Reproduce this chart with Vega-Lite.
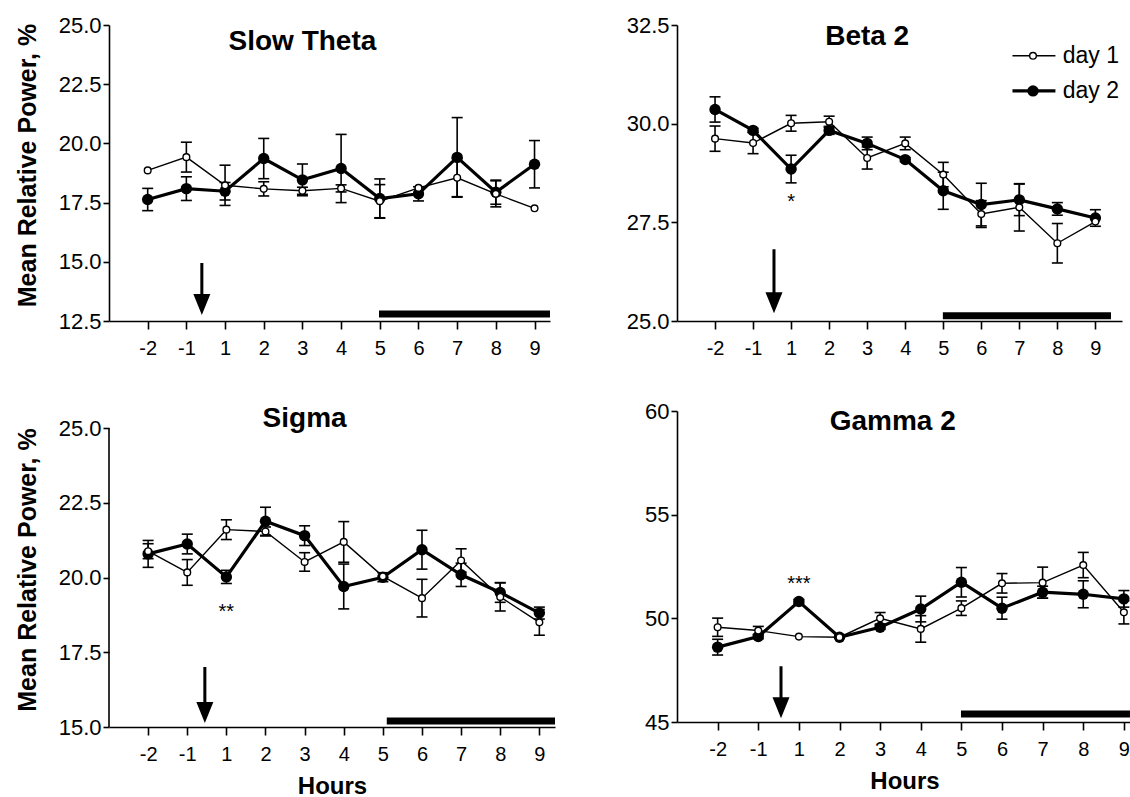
{
"$schema": "https://vega.github.io/schema/vega-lite/v6.json",
"background": "white",
"padding": {"left": 14, "top": 14, "right": 0, "bottom": 0},
"datasets": {"pw": [
{"p":"ST","d":1,"bin":1,"m":18.86,"lo":null,"hi":null},
{"p":"ST","d":1,"bin":2,"m":19.42,"lo":18.79,"hi":20.05},
{"p":"ST","d":1,"bin":3,"m":18.23,"lo":17.38,"hi":19.08},
{"p":"ST","d":1,"bin":4,"m":18.08,"lo":17.78,"hi":18.38},
{"p":"ST","d":1,"bin":5,"m":18.0,"lo":17.85,"hi":18.15},
{"p":"ST","d":1,"bin":6,"m":18.1,"lo":17.95,"hi":18.25},
{"p":"ST","d":1,"bin":7,"m":17.56,"lo":16.86,"hi":18.26},
{"p":"ST","d":1,"bin":8,"m":18.12,"lo":null,"hi":null},
{"p":"ST","d":1,"bin":9,"m":18.55,"lo":17.75,"hi":19.35},
{"p":"ST","d":1,"bin":10,"m":17.87,"lo":17.32,"hi":18.42},
{"p":"ST","d":1,"bin":11,"m":17.26,"lo":null,"hi":null},
{"p":"ST","d":2,"bin":1,"m":17.63,"lo":17.16,"hi":18.10},
{"p":"ST","d":2,"bin":2,"m":18.09,"lo":17.59,"hi":18.59},
{"p":"ST","d":2,"bin":3,"m":17.98,"lo":17.61,"hi":18.35},
{"p":"ST","d":2,"bin":4,"m":19.36,"lo":18.51,"hi":20.21},
{"p":"ST","d":2,"bin":5,"m":18.46,"lo":17.79,"hi":19.13},
{"p":"ST","d":2,"bin":6,"m":18.94,"lo":17.50,"hi":20.38},
{"p":"ST","d":2,"bin":7,"m":17.67,"lo":16.84,"hi":18.50},
{"p":"ST","d":2,"bin":8,"m":17.87,"lo":17.57,"hi":18.17},
{"p":"ST","d":2,"bin":9,"m":19.41,"lo":17.73,"hi":21.09},
{"p":"ST","d":2,"bin":10,"m":17.94,"lo":17.43,"hi":18.45},
{"p":"ST","d":2,"bin":11,"m":19.12,"lo":18.12,"hi":20.12},
{"p":"B2","d":1,"bin":1,"m":29.62,"lo":29.30,"hi":29.94},
{"p":"B2","d":1,"bin":2,"m":29.51,"lo":29.24,"hi":29.78},
{"p":"B2","d":1,"bin":3,"m":30.01,"lo":29.81,"hi":30.21},
{"p":"B2","d":1,"bin":4,"m":30.05,"lo":29.91,"hi":30.19},
{"p":"B2","d":1,"bin":5,"m":29.13,"lo":28.85,"hi":29.41},
{"p":"B2","d":1,"bin":6,"m":29.50,"lo":29.34,"hi":29.66},
{"p":"B2","d":1,"bin":7,"m":28.71,"lo":28.40,"hi":29.02},
{"p":"B2","d":1,"bin":8,"m":27.71,"lo":27.37,"hi":28.05},
{"p":"B2","d":1,"bin":9,"m":27.88,"lo":27.28,"hi":28.48},
{"p":"B2","d":1,"bin":10,"m":26.97,"lo":26.47,"hi":27.47},
{"p":"B2","d":1,"bin":11,"m":27.52,"lo":null,"hi":null},
{"p":"B2","d":2,"bin":1,"m":30.36,"lo":30.04,"hi":30.68},
{"p":"B2","d":2,"bin":2,"m":29.83,"lo":29.78,"hi":29.88},
{"p":"B2","d":2,"bin":3,"m":28.85,"lo":28.50,"hi":29.20},
{"p":"B2","d":2,"bin":4,"m":29.83,"lo":29.73,"hi":29.93},
{"p":"B2","d":2,"bin":5,"m":29.50,"lo":29.34,"hi":29.66},
{"p":"B2","d":2,"bin":6,"m":29.09,"lo":29.04,"hi":29.14},
{"p":"B2","d":2,"bin":7,"m":28.30,"lo":27.83,"hi":28.77},
{"p":"B2","d":2,"bin":8,"m":27.95,"lo":27.41,"hi":28.49},
{"p":"B2","d":2,"bin":9,"m":28.07,"lo":27.67,"hi":28.47},
{"p":"B2","d":2,"bin":10,"m":27.84,"lo":27.68,"hi":28.00},
{"p":"B2","d":2,"bin":11,"m":27.61,"lo":27.40,"hi":27.82},
{"p":"SG","d":1,"bin":1,"m":20.88,"lo":20.63,"hi":21.13},
{"p":"SG","d":1,"bin":2,"m":20.17,"lo":19.74,"hi":20.60},
{"p":"SG","d":1,"bin":3,"m":21.60,"lo":21.27,"hi":21.93},
{"p":"SG","d":1,"bin":4,"m":21.54,"lo":21.39,"hi":21.69},
{"p":"SG","d":1,"bin":5,"m":20.52,"lo":20.21,"hi":20.83},
{"p":"SG","d":1,"bin":6,"m":21.19,"lo":20.51,"hi":21.87},
{"p":"SG","d":1,"bin":7,"m":20.04,"lo":null,"hi":null},
{"p":"SG","d":1,"bin":8,"m":19.31,"lo":18.68,"hi":19.94},
{"p":"SG","d":1,"bin":9,"m":20.57,"lo":20.18,"hi":20.96},
{"p":"SG","d":1,"bin":10,"m":19.35,"lo":18.88,"hi":19.82},
{"p":"SG","d":1,"bin":11,"m":18.50,"lo":18.07,"hi":18.93},
{"p":"SG","d":2,"bin":1,"m":20.79,"lo":20.34,"hi":21.24},
{"p":"SG","d":2,"bin":2,"m":21.12,"lo":20.79,"hi":21.45},
{"p":"SG","d":2,"bin":3,"m":20.02,"lo":19.80,"hi":20.24},
{"p":"SG","d":2,"bin":4,"m":21.88,"lo":21.41,"hi":22.35},
{"p":"SG","d":2,"bin":5,"m":21.40,"lo":21.07,"hi":21.73},
{"p":"SG","d":2,"bin":6,"m":19.70,"lo":18.95,"hi":20.45},
{"p":"SG","d":2,"bin":7,"m":20.01,"lo":19.86,"hi":20.16},
{"p":"SG","d":2,"bin":8,"m":20.93,"lo":20.28,"hi":21.58},
{"p":"SG","d":2,"bin":9,"m":20.09,"lo":19.70,"hi":20.48},
{"p":"SG","d":2,"bin":10,"m":19.50,"lo":19.17,"hi":19.83},
{"p":"SG","d":2,"bin":11,"m":18.81,"lo":18.61,"hi":19.01},
{"p":"G2","d":1,"bin":1,"m":49.57,"lo":49.13,"hi":50.01},
{"p":"G2","d":1,"bin":2,"m":49.41,"lo":49.21,"hi":49.61},
{"p":"G2","d":1,"bin":3,"m":49.12,"lo":null,"hi":null},
{"p":"G2","d":1,"bin":4,"m":49.09,"lo":null,"hi":null},
{"p":"G2","d":1,"bin":5,"m":50.00,"lo":49.72,"hi":50.28},
{"p":"G2","d":1,"bin":6,"m":49.49,"lo":48.85,"hi":50.13},
{"p":"G2","d":1,"bin":7,"m":50.49,"lo":50.14,"hi":50.84},
{"p":"G2","d":1,"bin":8,"m":51.69,"lo":51.22,"hi":52.16},
{"p":"G2","d":1,"bin":9,"m":51.72,"lo":50.97,"hi":52.47},
{"p":"G2","d":1,"bin":10,"m":52.57,"lo":51.96,"hi":53.18},
{"p":"G2","d":1,"bin":11,"m":50.29,"lo":49.73,"hi":50.85},
{"p":"G2","d":2,"bin":1,"m":48.61,"lo":48.23,"hi":48.99},
{"p":"G2","d":2,"bin":2,"m":49.12,"lo":49.02,"hi":49.22},
{"p":"G2","d":2,"bin":3,"m":50.81,"lo":50.71,"hi":50.91},
{"p":"G2","d":2,"bin":4,"m":49.09,"lo":49.04,"hi":49.14},
{"p":"G2","d":2,"bin":5,"m":49.57,"lo":49.47,"hi":49.67},
{"p":"G2","d":2,"bin":6,"m":50.45,"lo":49.83,"hi":51.07},
{"p":"G2","d":2,"bin":7,"m":51.74,"lo":51.03,"hi":52.45},
{"p":"G2","d":2,"bin":8,"m":50.49,"lo":49.96,"hi":51.02},
{"p":"G2","d":2,"bin":9,"m":51.26,"lo":50.97,"hi":51.55},
{"p":"G2","d":2,"bin":10,"m":51.16,"lo":50.51,"hi":51.81},
{"p":"G2","d":2,"bin":11,"m":50.94,"lo":50.54,"hi":51.34}
]},
"data": {"name": "pw"},
"columns": 2,
"bounds": "flush",
"spacing": {"row": 90, "column": 122},
"concat": [
{
"width": 441, "height": 296,
"layer": [
{"transform": [{"filter": "datum.p == 'ST'"}], "mark": {"type": "rule", "color": "black", "strokeWidth": 1.6},
 "encoding": {
  "x": {"field": "bin", "type": "quantitative", "title": null, "scale": {"domain": [0, 11.4], "nice": false, "zero": false}, "axis": {"values": [1,2,3,4,5,6,7,8,9,10,11], "labelExpr": "datum.value <= 2 ? datum.value - 3 : datum.value - 2"}},
  "y": {"field": "lo", "type": "quantitative", "title": "Mean Relative Power, %", "scale": {"domain": [12.5, 25], "nice": false, "zero": false}, "axis": {"values": [12.5, 15, 17.5, 20, 22.5, 25], "format": ".1f", "titleX": -74, "titleY": 140, "titleAngle": 270, "titleBaseline": "alphabetic", "titleAlign": "center"}},
  "y2": {"field": "hi"}}},
{"transform": [{"filter": "datum.p == 'ST'"}], "mark": {"type": "tick", "orient": "horizontal", "color": "black", "size": 11, "thickness": 1.6, "opacity": 1},
 "encoding": {"x": {"field": "bin", "type": "quantitative", "title": null}, "y": {"field": "lo", "type": "quantitative", "title": "Mean Relative Power, %"}}},
{"transform": [{"filter": "datum.p == 'ST'"}], "mark": {"type": "tick", "orient": "horizontal", "color": "black", "size": 11, "thickness": 1.6, "opacity": 1},
 "encoding": {"x": {"field": "bin", "type": "quantitative", "title": null}, "y": {"field": "hi", "type": "quantitative", "title": "Mean Relative Power, %"}}},
{"transform": [{"filter": "datum.p == 'ST' && datum.d == 1"}], "mark": {"type": "line", "color": "black", "strokeWidth": 1.4},
 "encoding": {"x": {"field": "bin", "type": "quantitative", "title": null}, "y": {"field": "m", "type": "quantitative", "title": "Mean Relative Power, %"}}},
{"transform": [{"filter": "datum.p == 'ST' && datum.d == 2"}], "mark": {"type": "line", "color": "black", "strokeWidth": 3.2},
 "encoding": {"x": {"field": "bin", "type": "quantitative", "title": null}, "y": {"field": "m", "type": "quantitative", "title": "Mean Relative Power, %"}}},
{"transform": [{"filter": "datum.p == 'ST' && datum.d == 2"}], "mark": {"type": "point", "shape": "circle", "filled": true, "color": "black", "opacity": 1, "size": 130},
 "encoding": {"x": {"field": "bin", "type": "quantitative", "title": null}, "y": {"field": "m", "type": "quantitative", "title": "Mean Relative Power, %"}}},
{"transform": [{"filter": "datum.p == 'ST' && datum.d == 1"}], "mark": {"type": "point", "shape": "circle", "filled": true, "fill": "white", "stroke": "black", "strokeWidth": 1.4, "opacity": 1, "size": 45},
 "encoding": {"x": {"field": "bin", "type": "quantitative", "title": null}, "y": {"field": "m", "type": "quantitative", "title": "Mean Relative Power, %"}}},
{"data": {"values": [{}]}, "mark": {"type": "rule", "color": "black", "strokeWidth": 7},
 "encoding": {"x": {"datum": 6.98, "type": "quantitative"}, "x2": {"datum": 11.4}, "y": {"datum": 12.8, "type": "quantitative"}}},
{"data": {"values": [{}]}, "mark": {"type": "point", "shape": "M-0.058,-1L0.058,-1L0.058,0.192L0.327,0.192L0,1L-0.327,0.192L-0.058,0.192Z", "filled": true, "color": "black", "opacity": 1, "size": 2704},
 "encoding": {"x": {"datum": 2.4, "type": "quantitative"}, "y": {"datum": 13.85, "type": "quantitative"}}},
{"data": {"values": [{}]}, "mark": {"type": "text", "text": "Slow Theta", "fontSize": 28, "fontWeight": "bold", "align": "center", "baseline": "alphabetic", "color": "black"},
 "encoding": {"x": {"datum": 5, "type": "quantitative"}, "y": {"datum": 23.95, "type": "quantitative"}}}
]
},
{
"width": 445, "height": 296,
"layer": [
{"transform": [{"filter": "datum.p == 'B2'"}], "mark": {"type": "rule", "color": "black", "strokeWidth": 1.6},
 "encoding": {
  "x": {"field": "bin", "type": "quantitative", "title": null, "scale": {"domain": [0, 11.7], "nice": false, "zero": false}, "axis": {"values": [1,2,3,4,5,6,7,8,9,10,11], "labelExpr": "datum.value <= 2 ? datum.value - 3 : datum.value - 2"}},
  "y": {"field": "lo", "type": "quantitative", "title": null, "scale": {"domain": [25, 32.5], "nice": false, "zero": false}, "axis": {"values": [25, 27.5, 30, 32.5], "format": ".1f"}},
  "y2": {"field": "hi"}}},
{"transform": [{"filter": "datum.p == 'B2'"}], "mark": {"type": "tick", "orient": "horizontal", "color": "black", "size": 11, "thickness": 1.6, "opacity": 1},
 "encoding": {"x": {"field": "bin", "type": "quantitative", "title": null}, "y": {"field": "lo", "type": "quantitative", "title": null}}},
{"transform": [{"filter": "datum.p == 'B2'"}], "mark": {"type": "tick", "orient": "horizontal", "color": "black", "size": 11, "thickness": 1.6, "opacity": 1},
 "encoding": {"x": {"field": "bin", "type": "quantitative", "title": null}, "y": {"field": "hi", "type": "quantitative", "title": null}}},
{"transform": [{"filter": "datum.p == 'B2' && datum.d == 1"}], "mark": {"type": "line", "color": "black", "strokeWidth": 1.4},
 "encoding": {"x": {"field": "bin", "type": "quantitative", "title": null}, "y": {"field": "m", "type": "quantitative", "title": null}}},
{"transform": [{"filter": "datum.p == 'B2' && datum.d == 2"}], "mark": {"type": "line", "color": "black", "strokeWidth": 3.2},
 "encoding": {"x": {"field": "bin", "type": "quantitative", "title": null}, "y": {"field": "m", "type": "quantitative", "title": null}}},
{"transform": [{"filter": "datum.p == 'B2' && datum.d == 2"}], "mark": {"type": "point", "shape": "circle", "filled": true, "color": "black", "opacity": 1, "size": 130},
 "encoding": {"x": {"field": "bin", "type": "quantitative", "title": null}, "y": {"field": "m", "type": "quantitative", "title": null}}},
{"transform": [{"filter": "datum.p == 'B2' && datum.d == 1"}], "mark": {"type": "point", "shape": "circle", "filled": true, "fill": "white", "stroke": "black", "strokeWidth": 1.4, "opacity": 1, "size": 45},
 "encoding": {"x": {"field": "bin", "type": "quantitative", "title": null}, "y": {"field": "m", "type": "quantitative", "title": null}}},
{"data": {"values": [{}]}, "mark": {"type": "rule", "color": "black", "strokeWidth": 7},
 "encoding": {"x": {"datum": 6.99, "type": "quantitative"}, "x2": {"datum": 11.41}, "y": {"datum": 25.13, "type": "quantitative"}}},
{"data": {"values": [{}]}, "mark": {"type": "point", "shape": "M-0.047,-1L0.047,-1L0.047,0.344L0.266,0.344L0,1L-0.266,0.344L-0.047,0.344Z", "filled": true, "color": "black", "opacity": 1, "size": 4096},
 "encoding": {"x": {"datum": 2.55, "type": "quantitative"}, "y": {"datum": 26.01, "type": "quantitative"}}},
{"data": {"values": [{}]}, "mark": {"type": "text", "text": "Beta 2", "fontSize": 28, "fontWeight": "bold", "align": "center", "baseline": "alphabetic", "color": "black"},
 "encoding": {"x": {"datum": 5, "type": "quantitative"}, "y": {"datum": 31.99, "type": "quantitative"}}},
{"data": {"values": [{}]}, "mark": {"type": "text", "text": "*", "fontSize": 20, "align": "center", "baseline": "middle", "dy": 6, "color": "black"},
 "encoding": {"x": {"datum": 3, "type": "quantitative"}, "y": {"datum": 28.16, "type": "quantitative"}}},
{"data": {"values": [{}]}, "mark": {"type": "rule", "color": "black", "strokeWidth": 1.4},
 "encoding": {"x": {"datum": 8.82, "type": "quantitative"}, "x2": {"datum": 9.95}, "y": {"datum": 31.72, "type": "quantitative"}}},
{"data": {"values": [{}]}, "mark": {"type": "rule", "color": "black", "strokeWidth": 3.2},
 "encoding": {"x": {"datum": 8.82, "type": "quantitative"}, "x2": {"datum": 9.95}, "y": {"datum": 30.83, "type": "quantitative"}}},
{"data": {"values": [{}]}, "mark": {"type": "point", "shape": "circle", "filled": true, "fill": "white", "stroke": "black", "strokeWidth": 1.4, "opacity": 1, "size": 45},
 "encoding": {"x": {"datum": 9.36, "type": "quantitative"}, "y": {"datum": 31.72, "type": "quantitative"}}},
{"data": {"values": [{}]}, "mark": {"type": "point", "shape": "circle", "filled": true, "color": "black", "opacity": 1, "size": 130},
 "encoding": {"x": {"datum": 9.36, "type": "quantitative"}, "y": {"datum": 30.83, "type": "quantitative"}}},
{"data": {"values": [{}]}, "mark": {"type": "text", "text": "day 1", "fontSize": 23, "align": "left", "baseline": "middle", "color": "black"},
 "encoding": {"x": {"datum": 10.14, "type": "quantitative"}, "y": {"datum": 31.72, "type": "quantitative"}}},
{"data": {"values": [{}]}, "mark": {"type": "text", "text": "day 2", "fontSize": 23, "align": "left", "baseline": "middle", "color": "black"},
 "encoding": {"x": {"datum": 10.14, "type": "quantitative"}, "y": {"datum": 30.83, "type": "quantitative"}}}
]
},
{
"width": 446, "height": 316,
"layer": [
{"transform": [{"filter": "datum.p == 'SG'"}], "mark": {"type": "rule", "color": "black", "strokeWidth": 1.6},
 "encoding": {
  "x": {"field": "bin", "type": "quantitative", "title": "Hours", "scale": {"domain": [0, 11.4], "nice": false, "zero": false}, "axis": {"values": [1,2,3,4,5,6,7,8,9,10,11], "labelExpr": "datum.value <= 2 ? datum.value - 3 : datum.value - 2"}},
  "y": {"field": "lo", "type": "quantitative", "title": "Mean Relative Power, %", "scale": {"domain": [15, 25.569], "nice": false, "zero": false}, "axis": {"domain": false, "values": [15, 17.5, 20, 22.5, 25], "format": ".1f", "titleX": -74, "titleY": 158.5, "titleAngle": 270, "titleBaseline": "alphabetic", "titleAlign": "center"}},
  "y2": {"field": "hi"}}},
{"transform": [{"filter": "datum.p == 'SG'"}], "mark": {"type": "tick", "orient": "horizontal", "color": "black", "size": 11, "thickness": 1.6, "opacity": 1},
 "encoding": {"x": {"field": "bin", "type": "quantitative", "title": "Hours"}, "y": {"field": "lo", "type": "quantitative", "title": "Mean Relative Power, %"}}},
{"transform": [{"filter": "datum.p == 'SG'"}], "mark": {"type": "tick", "orient": "horizontal", "color": "black", "size": 11, "thickness": 1.6, "opacity": 1},
 "encoding": {"x": {"field": "bin", "type": "quantitative", "title": "Hours"}, "y": {"field": "hi", "type": "quantitative", "title": "Mean Relative Power, %"}}},
{"transform": [{"filter": "datum.p == 'SG' && datum.d == 1"}], "mark": {"type": "line", "color": "black", "strokeWidth": 1.4},
 "encoding": {"x": {"field": "bin", "type": "quantitative", "title": "Hours"}, "y": {"field": "m", "type": "quantitative", "title": "Mean Relative Power, %"}}},
{"transform": [{"filter": "datum.p == 'SG' && datum.d == 2"}], "mark": {"type": "line", "color": "black", "strokeWidth": 3.2},
 "encoding": {"x": {"field": "bin", "type": "quantitative", "title": "Hours"}, "y": {"field": "m", "type": "quantitative", "title": "Mean Relative Power, %"}}},
{"transform": [{"filter": "datum.p == 'SG' && datum.d == 2"}], "mark": {"type": "point", "shape": "circle", "filled": true, "color": "black", "opacity": 1, "size": 130},
 "encoding": {"x": {"field": "bin", "type": "quantitative", "title": "Hours"}, "y": {"field": "m", "type": "quantitative", "title": "Mean Relative Power, %"}}},
{"transform": [{"filter": "datum.p == 'SG' && datum.d == 1"}], "mark": {"type": "point", "shape": "circle", "filled": true, "fill": "white", "stroke": "black", "strokeWidth": 1.4, "opacity": 1, "size": 45},
 "encoding": {"x": {"field": "bin", "type": "quantitative", "title": "Hours"}, "y": {"field": "m", "type": "quantitative", "title": "Mean Relative Power, %"}}},
{"data": {"values": [{}]}, "mark": {"type": "rule", "color": "black", "strokeWidth": 1.6},
 "encoding": {"x": {"datum": 0, "type": "quantitative"}, "y": {"datum": 15, "type": "quantitative"}, "y2": {"datum": 25}}},
{"data": {"values": [{}]}, "mark": {"type": "rule", "color": "black", "strokeWidth": 7},
 "encoding": {"x": {"datum": 7.1, "type": "quantitative"}, "x2": {"datum": 11.4}, "y": {"datum": 15.2, "type": "quantitative"}}},
{"data": {"values": [{}]}, "mark": {"type": "point", "shape": "M-0.054,-1L0.054,-1L0.054,0.25L0.304,0.25L0,1L-0.304,0.25L-0.054,0.25Z", "filled": true, "color": "black", "opacity": 1, "size": 3136},
 "encoding": {"x": {"datum": 2.45, "type": "quantitative"}, "y": {"datum": 16.07, "type": "quantitative"}}},
{"data": {"values": [{}]}, "mark": {"type": "text", "text": "Sigma", "fontSize": 28, "fontWeight": "bold", "align": "center", "baseline": "alphabetic", "color": "black"},
 "encoding": {"x": {"datum": 5, "type": "quantitative"}, "y": {"datum": 25.05, "type": "quantitative"}}},
{"data": {"values": [{}]}, "mark": {"type": "text", "text": "**", "fontSize": 20, "align": "center", "baseline": "middle", "dy": 6, "color": "black"},
 "encoding": {"x": {"datum": 3, "type": "quantitative"}, "y": {"datum": 19.06, "type": "quantitative"}}}
]
},
{
"width": 455, "height": 311,
"layer": [
{"transform": [{"filter": "datum.p == 'G2'"}], "mark": {"type": "rule", "color": "black", "strokeWidth": 1.6},
 "encoding": {
  "x": {"field": "bin", "type": "quantitative", "title": "Hours", "scale": {"domain": [0, 11.2], "nice": false, "zero": false}, "axis": {"values": [1,2,3,4,5,6,7,8,9,10,11], "labelExpr": "datum.value <= 2 ? datum.value - 3 : datum.value - 2"}},
  "y": {"field": "lo", "type": "quantitative", "title": null, "scale": {"domain": [45, 60], "nice": false, "zero": false}, "axis": {"values": [45, 50, 55, 60], "format": "d"}},
  "y2": {"field": "hi"}}},
{"transform": [{"filter": "datum.p == 'G2'"}], "mark": {"type": "tick", "orient": "horizontal", "color": "black", "size": 11, "thickness": 1.6, "opacity": 1},
 "encoding": {"x": {"field": "bin", "type": "quantitative", "title": "Hours"}, "y": {"field": "lo", "type": "quantitative", "title": null}}},
{"transform": [{"filter": "datum.p == 'G2'"}], "mark": {"type": "tick", "orient": "horizontal", "color": "black", "size": 11, "thickness": 1.6, "opacity": 1},
 "encoding": {"x": {"field": "bin", "type": "quantitative", "title": "Hours"}, "y": {"field": "hi", "type": "quantitative", "title": null}}},
{"transform": [{"filter": "datum.p == 'G2' && datum.d == 1"}], "mark": {"type": "line", "color": "black", "strokeWidth": 1.4},
 "encoding": {"x": {"field": "bin", "type": "quantitative", "title": "Hours"}, "y": {"field": "m", "type": "quantitative", "title": null}}},
{"transform": [{"filter": "datum.p == 'G2' && datum.d == 2"}], "mark": {"type": "line", "color": "black", "strokeWidth": 3.2},
 "encoding": {"x": {"field": "bin", "type": "quantitative", "title": "Hours"}, "y": {"field": "m", "type": "quantitative", "title": null}}},
{"transform": [{"filter": "datum.p == 'G2' && datum.d == 2"}], "mark": {"type": "point", "shape": "circle", "filled": true, "color": "black", "opacity": 1, "size": 130},
 "encoding": {"x": {"field": "bin", "type": "quantitative", "title": "Hours"}, "y": {"field": "m", "type": "quantitative", "title": null}}},
{"transform": [{"filter": "datum.p == 'G2' && datum.d == 1"}], "mark": {"type": "point", "shape": "circle", "filled": true, "fill": "white", "stroke": "black", "strokeWidth": 1.4, "opacity": 1, "size": 45},
 "encoding": {"x": {"field": "bin", "type": "quantitative", "title": "Hours"}, "y": {"field": "m", "type": "quantitative", "title": null}}},
{"data": {"values": [{}]}, "mark": {"type": "rule", "color": "black", "strokeWidth": 7},
 "encoding": {"x": {"datum": 6.99, "type": "quantitative"}, "x2": {"datum": 11.2}, "y": {"datum": 45.38, "type": "quantitative"}}},
{"data": {"values": [{}]}, "mark": {"type": "point", "shape": "M-0.058,-1L0.058,-1L0.058,0.192L0.327,0.192L0,1L-0.327,0.192L-0.058,0.192Z", "filled": true, "color": "black", "opacity": 1, "size": 2704},
 "encoding": {"x": {"datum": 2.56, "type": "quantitative"}, "y": {"datum": 46.44, "type": "quantitative"}}},
{"data": {"values": [{}]}, "mark": {"type": "text", "text": "Gamma 2", "fontSize": 28, "fontWeight": "bold", "align": "center", "baseline": "alphabetic", "color": "black"},
 "encoding": {"x": {"datum": 5.31, "type": "quantitative"}, "y": {"datum": 59.1, "type": "quantitative"}}},
{"data": {"values": [{}]}, "mark": {"type": "text", "text": "***", "fontSize": 20, "align": "center", "baseline": "middle", "dy": 6, "color": "black"},
 "encoding": {"x": {"datum": 3, "type": "quantitative"}, "y": {"datum": 51.93, "type": "quantitative"}}}
]
}
],
"config": {
 "view": {"stroke": null},
 "font": "Liberation Sans",
 "axis": {"grid": false, "domainColor": "black", "tickColor": "black", "labelColor": "black", "titleColor": "black", "domainWidth": 1.6, "tickWidth": 1.6, "labelFont": "Liberation Sans", "titleFont": "Liberation Sans", "titleFontWeight": "bold", "titleFontSize": 24, "labelFlush": false, "labelOverlap": false},
 "axisX": {"tickSize": 8, "labelPadding": 9, "labelFontSize": 20, "titlePadding": 10},
 "axisY": {"tickSize": 6, "labelPadding": 2, "labelFontSize": 22, "titleFontSize": 25}
}
}
